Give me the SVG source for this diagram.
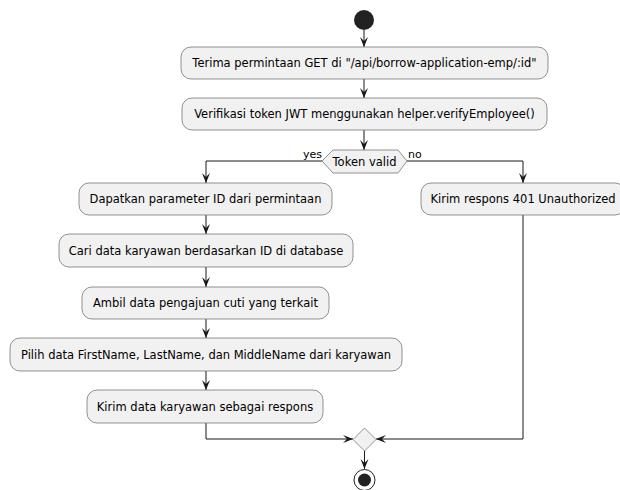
<svg xmlns="http://www.w3.org/2000/svg" width="620" height="490" viewBox="0 0 620 490">
<defs>
<style>
.box{fill:#F1F1F1;stroke:#777;stroke-width:0.8}
.t{font-family:"DejaVu Sans",sans-serif;font-size:11.5px;fill:#000;text-anchor:middle}
.lbl{font-family:"DejaVu Sans",sans-serif;font-size:11px;fill:#000}
.ln{fill:none;stroke:#181818;stroke-width:1}
</style>
<marker id="ah" viewBox="0 0 10 10" refX="10" refY="5" markerWidth="10" markerHeight="10" markerUnits="userSpaceOnUse" orient="auto">
<polygon points="0,1 10,5 0,9 4,5" fill="#181818"/>
</marker>
</defs>
<rect width="620" height="490" fill="#fff"/>
<g id="connectors">
<line class="ln" x1="364" y1="30" x2="364" y2="47" marker-end="url(#ah)"/>
<line class="ln" x1="364" y1="79" x2="364" y2="98" marker-end="url(#ah)"/>
<line class="ln" x1="364" y1="130" x2="364" y2="150" marker-end="url(#ah)"/>
<polyline class="ln" points="322,161 206,161 206,183" marker-end="url(#ah)"/>
<polyline class="ln" points="407,161 523,161 523,183" marker-end="url(#ah)"/>
<line class="ln" x1="206" y1="215" x2="206" y2="234" marker-end="url(#ah)"/>
<line class="ln" x1="206" y1="267" x2="206" y2="287" marker-end="url(#ah)"/>
<line class="ln" x1="206" y1="319" x2="206" y2="338" marker-end="url(#ah)"/>
<line class="ln" x1="206" y1="371" x2="206" y2="390" marker-end="url(#ah)"/>
<polyline class="ln" points="206,423 206,439 353,439" marker-end="url(#ah)"/>
<polyline class="ln" points="523,215 523,439 376,439" marker-end="url(#ah)"/>
<line class="ln" x1="364.5" y1="451" x2="364.5" y2="469" marker-end="url(#ah)"/>
<text class="lbl" x="303" y="158">yes</text>
<text class="lbl" x="408" y="158">no</text>
</g>
<g id="start"><circle cx="364" cy="20" r="10" fill="#222"/></g>
<g id="n1"><rect class="box" x="181" y="47" width="367" height="32" rx="10"/><text class="t" x="364.5" y="67">Terima permintaan GET di "/api/borrow-application-emp/:id"</text></g>
<g id="n2"><rect class="box" x="182" y="98" width="365" height="32" rx="10"/><text class="t" x="364.5" y="118">Verifikasi token JWT menggunakan helper.verifyEmployee()</text></g>
<g id="d1"><polygon class="box" points="322,161 333,150 398,150 407,161 398,173 333,173"/><text class="t" x="364.5" y="165.5">Token valid</text></g>
<g id="n3"><rect class="box" x="79" y="183" width="253" height="32" rx="10"/><text class="t" x="205.5" y="203">Dapatkan parameter ID dari permintaan</text></g>
<g id="n4"><rect class="box" x="421" y="183" width="204" height="32" rx="10"/><text class="t" x="523" y="203">Kirim respons 401 Unauthorized</text></g>
<g id="n5"><rect class="box" x="59" y="234" width="294" height="33" rx="10"/><text class="t" x="206" y="254.5">Cari data karyawan berdasarkan ID di database</text></g>
<g id="n6"><rect class="box" x="82" y="287" width="247" height="32" rx="10"/><text class="t" x="205.5" y="307">Ambil data pengajuan cuti yang terkait</text></g>
<g id="n7"><rect class="box" x="10" y="338" width="392" height="33" rx="10"/><text class="t" x="206" y="358.5">Pilih data FirstName, LastName, dan MiddleName dari karyawan</text></g>
<g id="n8"><rect class="box" x="87" y="390" width="236" height="33" rx="10"/><text class="t" x="205" y="410.5">Kirim data karyawan sebagai respons</text></g>
<g id="merge"><polygon class="box" points="364.5,428 376,439.5 364.5,451 353,439.5"/></g>
<g id="end"><circle cx="364.5" cy="480" r="10.5" fill="none" stroke="#222" stroke-width="1"/><circle cx="364.5" cy="480" r="6.5" fill="#222"/></g>
</svg>
